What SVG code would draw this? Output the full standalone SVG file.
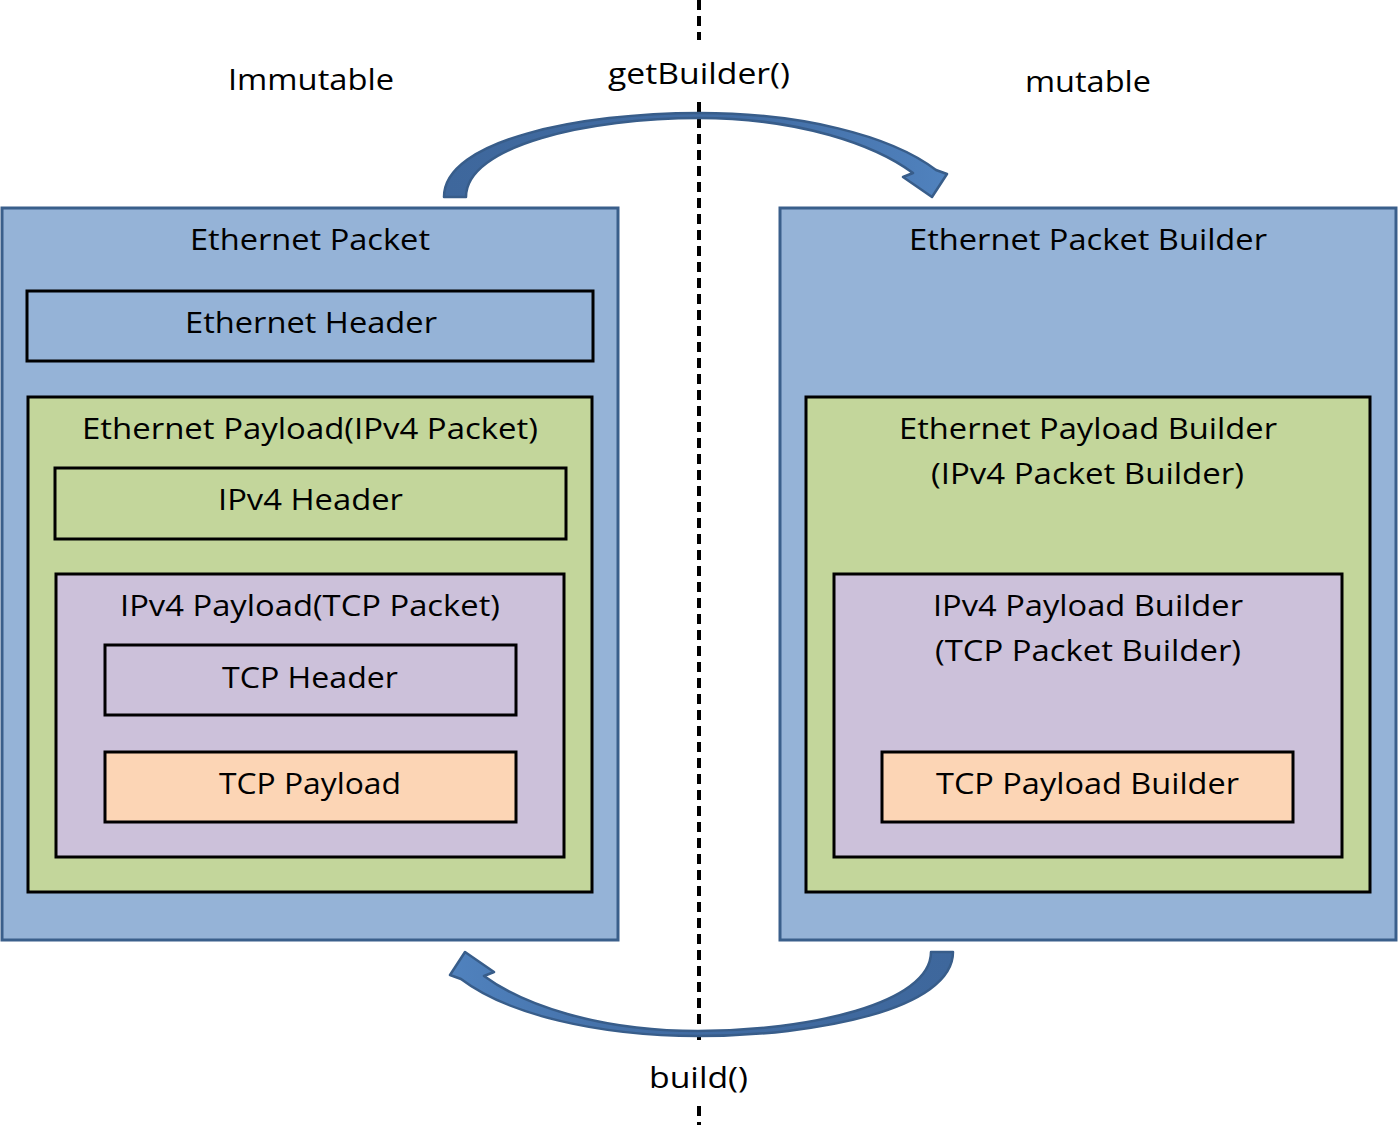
<svg xmlns="http://www.w3.org/2000/svg" width="1398" height="1125" viewBox="0 0 1398 1125">
<style>
.outer{fill:#95B3D7;stroke:#3A5F8B;stroke-width:3}
.blue{fill:#95B3D7;stroke:#000;stroke-width:3}
.green{fill:#C3D69B;stroke:#000;stroke-width:3}
.purple{fill:#CCC1DA;stroke:#000;stroke-width:3}
.orange{fill:#FCD5B5;stroke:#000;stroke-width:3}
text{font-family:"Open Sans","Noto Sans","Liberation Sans",sans-serif;font-size:29px;fill:#000;text-anchor:middle}
.arrow{fill:url(#ag);stroke:#385D8A;stroke-width:2.5;stroke-linejoin:round}
.dash{stroke:#000;stroke-width:4;stroke-dasharray:10,6}
</style>
<defs>
<linearGradient id="ag" x1="0" y1="0" x2="1" y2="0">
<stop offset="0" stop-color="#3E679C"/>
<stop offset="0.6" stop-color="#426DA4"/>
<stop offset="1" stop-color="#5082BE"/>
</linearGradient>
<path id="carrow" d="M444,197 C444,140 580,113 699,113 C800,113 890,135 936,170 L947,174 L932,197 L903,177 L913,173 C875,145 800,118 699,118 C590,118 466,145 466,197 Z"/>
</defs>
<g id="divider">
<line class="dash" x1="699" y1="0" x2="699" y2="40"/>
<line class="dash" x1="699" y1="102" x2="699" y2="1045"/>
<line class="dash" x1="699" y1="1106" x2="699" y2="1125"/>
</g>
<g id="labels">
<text x="311" y="90" textLength="166" lengthAdjust="spacingAndGlyphs">Immutable</text>
<text x="699" y="84" textLength="182" lengthAdjust="spacingAndGlyphs">getBuilder()</text>
<text x="1088" y="92" textLength="126" lengthAdjust="spacingAndGlyphs">mutable</text>
<text x="698.5" y="1088" textLength="99" lengthAdjust="spacingAndGlyphs">build()</text>
</g>
<g id="connectors">
<use href="#carrow" class="arrow"/>
<use href="#carrow" class="arrow" transform="rotate(180 698.5 574.5)"/>
</g>
<g id="ethernet-packet">
<rect class="outer" x="2" y="208" width="616" height="732"/>
<text x="310" y="250" textLength="240" lengthAdjust="spacingAndGlyphs">Ethernet Packet</text>
</g>
<g id="ethernet-header">
<rect class="blue" x="27" y="291" width="566" height="70"/>
<text x="311" y="333" textLength="252" lengthAdjust="spacingAndGlyphs">Ethernet Header</text>
</g>
<g id="ethernet-payload">
<rect class="green" x="28" y="397" width="564" height="495"/>
<text x="310" y="439" textLength="456" lengthAdjust="spacingAndGlyphs">Ethernet Payload(IPv4 Packet)</text>
</g>
<g id="ipv4-header">
<rect class="green" x="55" y="468" width="511" height="71"/>
<text x="310.5" y="510" textLength="185" lengthAdjust="spacingAndGlyphs">IPv4 Header</text>
</g>
<g id="ipv4-payload">
<rect class="purple" x="56" y="574" width="508" height="283"/>
<text x="310" y="616" textLength="380" lengthAdjust="spacingAndGlyphs">IPv4 Payload(TCP Packet)</text>
</g>
<g id="tcp-header">
<rect class="purple" x="105" y="645" width="411" height="70"/>
<text x="310" y="688" textLength="176" lengthAdjust="spacingAndGlyphs">TCP Header</text>
</g>
<g id="tcp-payload">
<rect class="orange" x="105" y="752" width="411" height="70"/>
<text x="310" y="794" textLength="182" lengthAdjust="spacingAndGlyphs">TCP Payload</text>
</g>
<g id="ethernet-packet-builder">
<rect class="outer" x="780" y="208" width="616" height="732"/>
<text x="1088" y="250" textLength="358" lengthAdjust="spacingAndGlyphs">Ethernet Packet Builder</text>
</g>
<g id="ethernet-payload-builder">
<rect class="green" x="806" y="397" width="564" height="495"/>
<text x="1088" y="439" textLength="378" lengthAdjust="spacingAndGlyphs">Ethernet Payload Builder</text>
<text x="1087.5" y="484" textLength="313" lengthAdjust="spacingAndGlyphs">(IPv4 Packet Builder)</text>
</g>
<g id="ipv4-payload-builder">
<rect class="purple" x="834" y="574" width="508" height="283"/>
<text x="1088" y="616" textLength="310" lengthAdjust="spacingAndGlyphs">IPv4 Payload Builder</text>
<text x="1088" y="661" textLength="306" lengthAdjust="spacingAndGlyphs">(TCP Packet Builder)</text>
</g>
<g id="tcp-payload-builder">
<rect class="orange" x="882" y="752" width="411" height="70"/>
<text x="1087.5" y="794" textLength="303" lengthAdjust="spacingAndGlyphs">TCP Payload Builder</text>
</g>
</svg>
